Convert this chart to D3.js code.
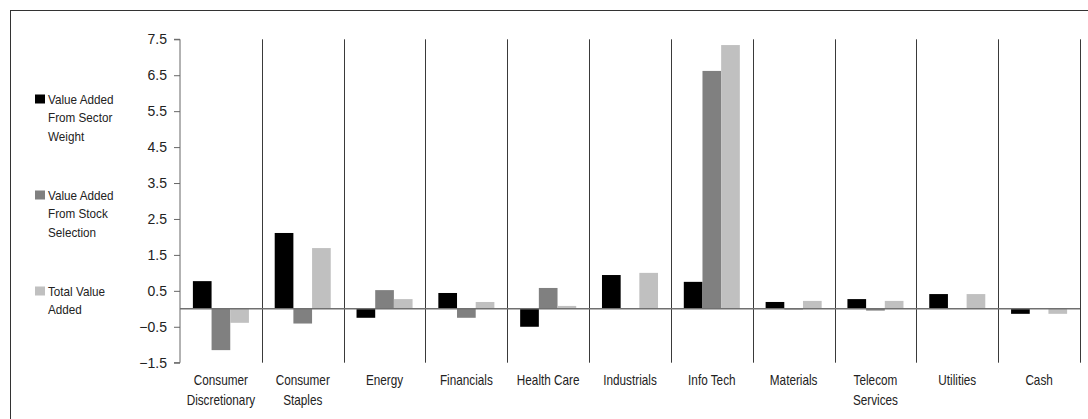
<!DOCTYPE html>
<html>
<head>
<meta charset="utf-8">
<script src="https://cdn.jsdelivr.net/npm/d3@7"></script>
<style>
  html, body { margin: 0; padding: 0; background: #fff; }
  svg { display: block; }
  text { font-family: "Liberation Sans", Arial, sans-serif; fill: #222; }
</style>
</head>
<body>
<svg id="chart" width="1088" height="419"></svg>
<script>
const categories = ["Consumer Discretionary", "Consumer Staples", "Energy", "Financials", "Health Care", "Industrials", "Info Tech", "Materials", "Telecom Services", "Utilities", "Cash"];
const categoryLines = [["Consumer", "Discretionary"], ["Consumer", "Staples"], ["Energy"], ["Financials"], ["Health Care"], ["Industrials"], ["Info Tech"], ["Materials"], ["Telecom", "Services"], ["Utilities"], ["Cash"]];
const seriesNames = ["Value Added From Sector Weight", "Value Added From Stock Selection", "Total Value Added"];
const legendLines = [["Value Added", "From Sector", "Weight"], ["Value Added", "From Stock", "Selection"], ["Total Value", "Added"]];
const sectorWeight = [0.77, 2.11, -0.25, 0.44, -0.50, 0.94, 0.75, 0.19, 0.27, 0.41, -0.14];
const stockSelection = [-1.15, -0.41, 0.52, -0.25, 0.58, 0.02, 6.62, -0.02, -0.05, 0.0, 0.0];
const totalValue = [-0.39, 1.69, 0.27, 0.19, 0.08, 1.00, 7.34, 0.22, 0.22, 0.41, -0.14];
const yTicks = [-1.5, -0.5, 0.5, 1.5, 2.5, 3.5, 4.5, 5.5, 6.5, 7.5];
const colors = ["#000000", "#808080", "#c0c0c0"];

const series = [sectorWeight, stockSelection, totalValue];
const svg = d3.select("#chart");

// outer frame
svg.append("rect").attr("x", 10.5).attr("y", 10.5).attr("width", 1100).attr("height", 430)
  .attr("fill", "none").attr("stroke", "#333").attr("stroke-width", 1);

const plotLeft = 180, plotRight = 1080, plotTop = 39.3, plotBottom = 362.7;
const y = d3.scaleLinear().domain([-1.5, 7.5]).range([plotBottom, plotTop]);
const x0 = d3.scaleBand().domain(categories).range([plotLeft, plotRight]).paddingInner(0).paddingOuter(0);
const x1 = d3.scaleBand().domain(d3.range(3)).range([0, x0.bandwidth()]).paddingInner(0).paddingOuter(0.69);

// dividers
svg.append("g").selectAll("line").data(categories).join("line")
  .attr("x1", d => Math.round(x0(d) + x0.bandwidth()) + 0.5)
  .attr("x2", d => Math.round(x0(d) + x0.bandwidth()) + 0.5)
  .attr("y1", plotTop).attr("y2", plotBottom)
  .attr("stroke", "#3a3a3a").attr("stroke-width", 1);

// bars
const rows = categories.map((c, i) => ({ c, vals: series.map(s => s[i]) }));
const g = svg.append("g").selectAll("g").data(rows).join("g")
  .attr("transform", d => `translate(${x0(d.c)},0)`);
g.selectAll("rect").data(d => d.vals.map((v, k) => ({ v, k }))).join("rect")
  .attr("x", d => x1(d.k))
  .attr("width", x1.bandwidth())
  .attr("y", d => y(Math.max(0, d.v)))
  .attr("height", d => Math.abs(y(d.v) - y(0)))
  .attr("fill", d => colors[d.k]);

// y axis
const yAxis = d3.axisLeft(y).tickValues(yTicks).tickSize(6).tickPadding(7).tickFormat(d3.format(".1f"));
const ya = svg.append("g").attr("transform", `translate(${plotLeft},0)`).call(yAxis);
ya.select(".domain").attr("stroke", "#666").attr("d", `M-6,${plotTop}H0V${plotBottom}H-6`);
ya.selectAll(".tick line").attr("stroke", "#666");
ya.selectAll(".tick text").attr("font-size", 14).attr("fill", "#222")
  .style("font-family", '"Liberation Sans", Arial, sans-serif');

// zero line
svg.append("line").attr("x1", plotLeft).attr("x2", plotRight)
  .attr("y1", y(0)).attr("y2", y(0)).attr("stroke", "#707070").attr("stroke-width", 1.5);

// category labels (narrowed horizontally to mimic a condensed face)
const cl = svg.append("g").selectAll("text").data(categories).join("text")
  .attr("transform", d => `translate(${x0(d) + x0.bandwidth() / 2},385) scale(0.84,1)`)
  .attr("text-anchor", "middle").attr("font-size", 14);
cl.each(function(d, i) {
  d3.select(this).selectAll("tspan").data(categoryLines[i]).join("tspan")
    .attr("x", 0)
    .attr("dy", (t, j) => j === 0 ? 0 : 20)
    .text(t => t);
});

// legend
const legendTops = [94.5, 190.5, 286.5];
const lg = svg.append("g").selectAll("g").data(seriesNames).join("g");
lg.append("rect").attr("x", 35).attr("y", (d, i) => legendTops[i]).attr("width", 10).attr("height", 9)
  .attr("fill", (d, i) => colors[i]);
lg.append("text")
  .attr("transform", (d, i) => `translate(48,${legendTops[i] + 9}) scale(0.9,1)`)
  .attr("font-size", 13)
  .each(function(d, i) {
    d3.select(this).selectAll("tspan").data(legendLines[i]).join("tspan")
      .attr("x", 0).attr("dy", (t, j) => j === 0 ? 0 : 18.7).text(t => t);
  });
</script>
</body>
</html>
